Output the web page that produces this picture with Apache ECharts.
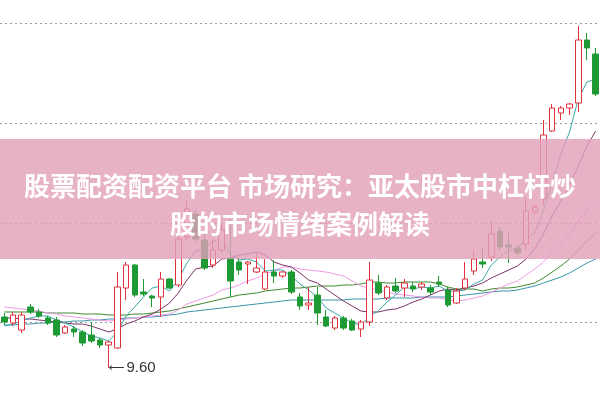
<!DOCTYPE html>
<html>
<head>
<meta charset="utf-8">
<script src="https://cdn.jsdelivr.net/npm/echarts@6/dist/echarts.min.js"></script>
<style>html,body{margin:0;padding:0;background:#fff}#c{width:600px;height:399px}</style>
</head>
<body>
<div id="c"></div>
<script>
// [open, close, low, high]
const candles = [
[10.11,10.06,10.03,10.15],[10.05,10.13,10.02,10.16],[9.98,10.13,9.95,10.16],[10.21,10.16,10.14,10.24],
[10.16,10.12,10.10,10.19],[10.10,10.05,10.03,10.12],[10.08,9.93,9.91,10.11],[9.95,10.01,9.94,10.03],
[9.99,9.96,9.91,10.02],[9.96,9.85,9.82,9.98],[9.93,9.87,9.85,10.06],[9.88,9.83,9.80,9.90],
[9.83,9.86,9.60,9.87],[9.80,10.41,9.79,10.56],[10.40,10.63,10.28,10.66],[10.63,10.33,10.31,10.64],
[10.36,10.34,10.32,10.49],[10.32,10.30,10.21,10.33],[10.31,10.49,10.11,10.56],[10.49,10.40,10.39,10.50],
[10.43,10.89,10.41,10.92],[10.91,11.19,10.87,11.27],[11.14,10.89,10.86,11.18],[10.88,10.60,10.58,10.95],
[10.63,10.78,10.60,10.88],[10.78,10.98,10.75,11.04],[10.70,10.47,10.31,11.09],[10.66,10.58,10.53,10.71],
[10.64,10.66,10.44,10.67],[10.56,10.60,10.55,10.75],[10.39,10.56,10.38,10.69],[10.56,10.52,10.45,10.68],
[10.52,10.56,10.50,10.57],[10.56,10.36,10.34,10.58],[10.31,10.22,10.18,10.35],[10.23,10.25,10.18,10.41],
[10.33,10.15,10.03,10.41],[10.11,10.02,10.01,10.18],[10.00,10.10,9.98,10.12],[10.10,10.00,9.98,10.12],
[10.07,9.98,9.97,10.09],[9.99,10.06,9.91,10.08],[10.06,10.48,10.02,10.66],[10.45,10.35,10.33,10.53],
[10.30,10.41,10.28,10.43],[10.42,10.37,10.35,10.50],[10.40,10.45,10.31,10.49],[10.42,10.39,10.36,10.46],
[10.41,10.44,10.38,10.46],[10.40,10.36,10.33,10.43],[10.46,10.44,10.41,10.52],[10.38,10.23,10.21,10.41],
[10.25,10.37,10.24,10.40],[10.40,10.49,10.38,10.66],[10.57,10.69,10.53,10.77],[10.66,10.64,10.60,10.80],
[10.71,10.94,10.67,11.07],[10.97,10.81,10.77,11.01],[10.83,10.81,10.65,10.95],[10.80,10.75,10.73,10.83],
[10.84,11.17,10.78,11.31],[11.16,11.21,11.13,11.23],[11.29,11.93,11.23,12.08],[11.97,12.20,11.96,12.24],
[12.15,12.20,12.08,12.22],[12.20,12.24,12.13,12.25],[12.25,12.88,12.16,13.02],[12.88,12.80,12.68,12.95],
[12.74,12.34,12.32,12.80]
];
const ma5 = [10.02,10.04,10.07,10.10,10.12,10.12,10.08,10.05,10.01,9.96,9.92,9.90,9.87,9.96,10.12,10.21,10.31,10.40,10.42,10.37,10.48,10.65,10.77,10.79,10.87,10.89,10.74,10.68,10.69,10.66,10.57,10.58,10.58,10.52,10.44,10.38,10.31,10.20,10.15,10.10,10.05,10.03,10.12,10.17,10.26,10.33,10.41,10.39,10.41,10.40,10.42,10.37,10.37,10.38,10.44,10.48,10.63,10.71,10.78,10.79,10.90,10.95,11.17,11.45,11.74,11.96,12.29,12.46,12.49];
const ma10 = [10.10,10.10,10.09,10.09,10.08,10.07,10.06,10.05,10.04,10.04,10.02,9.99,9.96,9.99,10.04,10.07,10.11,10.14,10.19,10.25,10.35,10.48,10.59,10.61,10.62,10.69,10.70,10.73,10.74,10.76,10.73,10.66,10.63,10.61,10.55,10.48,10.45,10.39,10.33,10.27,10.22,10.17,10.16,10.16,10.18,10.19,10.22,10.26,10.29,10.33,10.37,10.39,10.38,10.40,10.42,10.45,10.50,10.54,10.58,10.62,10.69,10.79,10.94,11.12,11.27,11.43,11.62,11.82,11.97];
const ma20 = [10.21,10.20,10.19,10.18,10.17,10.15,10.14,10.12,10.11,10.10,10.09,10.08,10.07,10.08,10.09,10.10,10.11,10.12,10.13,10.14,10.18,10.24,10.27,10.30,10.33,10.38,10.40,10.43,10.47,10.50,10.54,10.57,10.61,10.61,10.59,10.58,10.57,10.56,10.54,10.52,10.47,10.42,10.40,10.38,10.36,10.34,10.33,10.32,10.31,10.30,10.30,10.28,10.27,10.28,10.30,10.32,10.36,10.40,10.44,10.47,10.53,10.59,10.66,10.76,10.84,10.94,11.06,11.18,11.27];
const ma30 = [10.16,10.16,10.16,10.16,10.16,10.15,10.15,10.15,10.15,10.14,10.14,10.14,10.13,10.13,10.13,10.14,10.14,10.15,10.16,10.17,10.19,10.21,10.23,10.25,10.27,10.29,10.31,10.33,10.34,10.35,10.37,10.38,10.39,10.40,10.40,10.41,10.42,10.42,10.42,10.43,10.43,10.44,10.46,10.46,10.45,10.45,10.46,10.46,10.46,10.46,10.44,10.41,10.39,10.39,10.39,10.37,10.39,10.40,10.40,10.41,10.43,10.45,10.50,10.56,10.62,10.69,10.78,10.87,10.95];
const ma60 = [10.03,10.03,10.04,10.04,10.05,10.05,10.06,10.06,10.07,10.07,10.08,10.08,10.09,10.09,10.10,10.10,10.11,10.11,10.12,10.13,10.14,10.16,10.17,10.18,10.19,10.20,10.21,10.22,10.23,10.24,10.25,10.26,10.27,10.28,10.28,10.28,10.28,10.28,10.28,10.28,10.29,10.29,10.29,10.29,10.30,10.30,10.30,10.30,10.31,10.31,10.31,10.31,10.32,10.33,10.34,10.35,10.36,10.37,10.37,10.38,10.40,10.42,10.45,10.48,10.51,10.55,10.60,10.65,10.69];
const gridLevels = [10.06, 11.05, 12.05, 13.05];
const lowMark = {index: 12, value: 9.60, text: '9.60'};
const titleLines = ['股票配资配资平台 市场研究：亚太股市中杠杆炒', '股的市场情绪案例解读'];
const categories = candles.map((_, i) => 'D' + (i + 1));

const chart = echarts.init(document.getElementById('c'), null, {renderer: 'canvas'});
const lineS = (name, data, color) => ({
  name, type: 'line', data, symbol: 'none', smooth: false, z: 3,
  lineStyle: {color, width: 1}, animation: false, silent: true
});
chart.setOption({
  animation: false,
  backgroundColor: '#ffffff',
  title: {
    text: titleLines.join('\n'),
    left: 'center', top: 162, z: 20,
    textStyle: {color: '#ffffff', fontSize: 26, fontWeight: 'bold', lineHeight: 38,
      fontFamily: '"Noto Sans CJK SC", sans-serif'}
  },
  graphic: [{
    type: 'rect', z: 10, silent: true,
    shape: {x: 0, y: 139, width: 600, height: 120},
    style: {fill: 'rgba(226,160,186,0.82)'}
  }],
  grid: {left: -1.7, top: 0, width: 603.75, height: 399},
  xAxis: {type: 'category', data: categories, boundaryGap: true, show: false},
  yAxis: {type: 'value', min: 9.29, max: 13.28, show: false, splitLine: {show: false}},
  series: [
    lineS('MA60', ma60, '#3a94a8'),
    lineS('MA30', ma30, '#3f8a2e'),
    lineS('MA20', ma20, '#ee9ae6'),
    lineS('MA10', ma10, '#7a3468'),
    lineS('MA5', ma5, '#3aa8a6'),
    {
      type: 'candlestick', data: candles, barWidth: 6, z: 4,
      itemStyle: {color: '#ffffff', color0: '#1e9a35', borderColor: '#e0323e', borderColor0: '#1e9a35', borderWidth: 1},
      markLine: {
        silent: true, symbol: ['none', 'none'], z: 1,
        label: {show: false},
        lineStyle: {color: '#9a9a9a', type: [2, 3], width: 1},
        data: gridLevels.map(v => ({yAxis: v}))
      },
      markPoint: {
        silent: true, symbol: 'circle', symbolSize: 0,
        label: {show: true, position: 'right', distance: 0,
          formatter: '{a|⟵}{b|' + lowMark.text + '}',
          rich: {
            a: {color: '#333333', fontSize: 11, fontFamily: '"DejaVu Sans", sans-serif', padding: [0, 2, 0, 0]},
            b: {color: '#333333', fontSize: 15, fontFamily: '"Liberation Sans", Arial, sans-serif'}
          }},
        data: [{coord: [lowMark.index, lowMark.value], value: lowMark.value}]
      }
    }
  ]
});
</script>
</body>
</html>
